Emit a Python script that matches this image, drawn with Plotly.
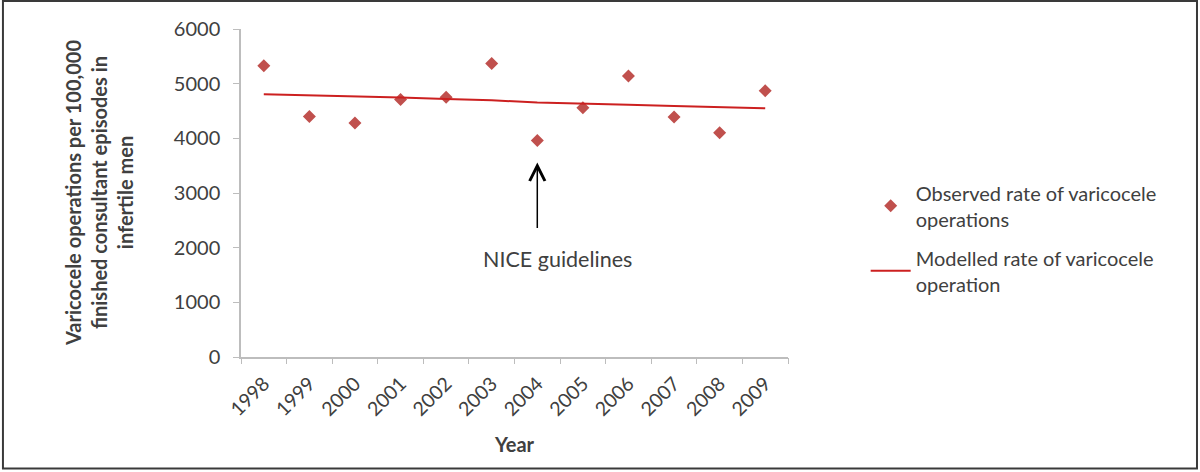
import plotly.graph_objects as go

# Données
years = [1998, 1999, 2000, 2001, 2002, 2003, 2004, 2005, 2006, 2007, 2008, 2009]
observed = [5330, 4400, 4280, 4710, 4750, 5370, 3960, 4560, 5140, 4390, 4100, 4870]
modelled = [4808, 4790, 4770, 4745, 4720, 4695, 4655, 4640, 4615, 4590, 4568, 4550]
y_ticks = [0, 1000, 2000, 3000, 4000, 5000, 6000]

FONT = "Lato, 'Open Sans', sans-serif"
AXIS_GREY = "#BDBDBD"
TEXT_GREY = "#404040"

x_range = [years[0] - 0.5, years[-1] + 0.5]
boundaries = [y - 0.5 for y in years] + [years[-1] + 0.5]

fig = go.Figure()

fig.add_trace(go.Scatter(
    x=years, y=observed,
    mode="markers",
    marker=dict(symbol="diamond", size=10, color="#C0504D"),
    name="Observed rate of varicocele<br>operations",
    legendgroup="obs",
))

fig.add_trace(go.Scatter(
    x=years, y=modelled,
    mode="lines",
    line=dict(color="#CC2020", width=2),
    name="Modelled rate of varicocele<br>operation",
    legendgroup="mod",
))

# Axe fantôme pour les graduations entre catégories
fig.add_trace(go.Scatter(
    x=[x_range[0]], y=[0], xaxis="x2", mode="markers",
    marker=dict(opacity=0), showlegend=False, hoverinfo="skip",
))

# Flèche + texte NICE
fig.add_annotation(
    x=2004, y=3560, ax=0, ay=67,
    showarrow=True, arrowhead=5, arrowsize=2, arrowwidth=1.5,
    arrowcolor="#000000", text="",
)
fig.add_annotation(
    x=2004.45, y=1800, text="NICE guidelines", showarrow=False,
    font=dict(size=21.5, color=TEXT_GREY, family=FONT),
)

# Titres des axes
fig.add_annotation(
    xref="paper", yref="paper", x=-0.2596, y=0.5,
    xanchor="center", yanchor="middle",
    text="<b>Varicocele operations per 100,000<br>finished consultant episodes in<br>infertile men</b>",
    textangle=-90, showarrow=False,
    font=dict(size=20, color=TEXT_GREY, family=FONT),
)
fig.add_annotation(
    xref="paper", yref="paper", x=0.5, y=-0.264,
    xanchor="center", yanchor="middle",
    text="<b>Year</b>", showarrow=False,
    font=dict(size=20, color=TEXT_GREY, family=FONT),
)

# Cadre
fig.add_shape(
    type="rect", xref="paper", yref="paper",
    x0=-0.4352, x1=1.7477, y0=-0.340, y1=1.085,
    line=dict(color="#3A3A3A", width=2),
)

fig.update_layout(
    width=1200, height=472,
    margin=dict(l=241, r=412, t=29, b=115),
    paper_bgcolor="white", plot_bgcolor="white",
    font=dict(family=FONT, size=18, color=TEXT_GREY),
    legend=dict(
        x=1.142, y=0.56, xanchor="left", yanchor="top",
        font=dict(size=20, color=TEXT_GREY),
        tracegroupgap=10, itemwidth=40,
    ),
    xaxis=dict(
        range=x_range, tickvals=years, ticktext=[str(y) for y in years],
        showline=True, linecolor=AXIS_GREY, linewidth=1.5,
        ticks="", tickangle=-45, showgrid=False, zeroline=False,
        tickfont=dict(size=19.5), automargin=False, ticklabelstandoff=6,
    ),
    xaxis2=dict(
        overlaying="x", side="bottom", range=x_range,
        tickvals=boundaries, showticklabels=False,
        ticks="outside", ticklen=6, tickcolor=AXIS_GREY,
        showline=False, showgrid=False, zeroline=False, automargin=False,
    ),
    yaxis=dict(
        range=[0, 6000], tickvals=y_ticks,
        showline=True, linecolor=AXIS_GREY, linewidth=1.5,
        ticks="outside", ticklen=6, tickcolor=AXIS_GREY,
        showgrid=False, zeroline=False, ticklabelstandoff=9,
        tickfont=dict(size=20), automargin=False,
    ),
)

fig.write_html(
    "out.html",
    config={"displayModeBar": False},
    post_script="document.body.style.margin='0';",
)
